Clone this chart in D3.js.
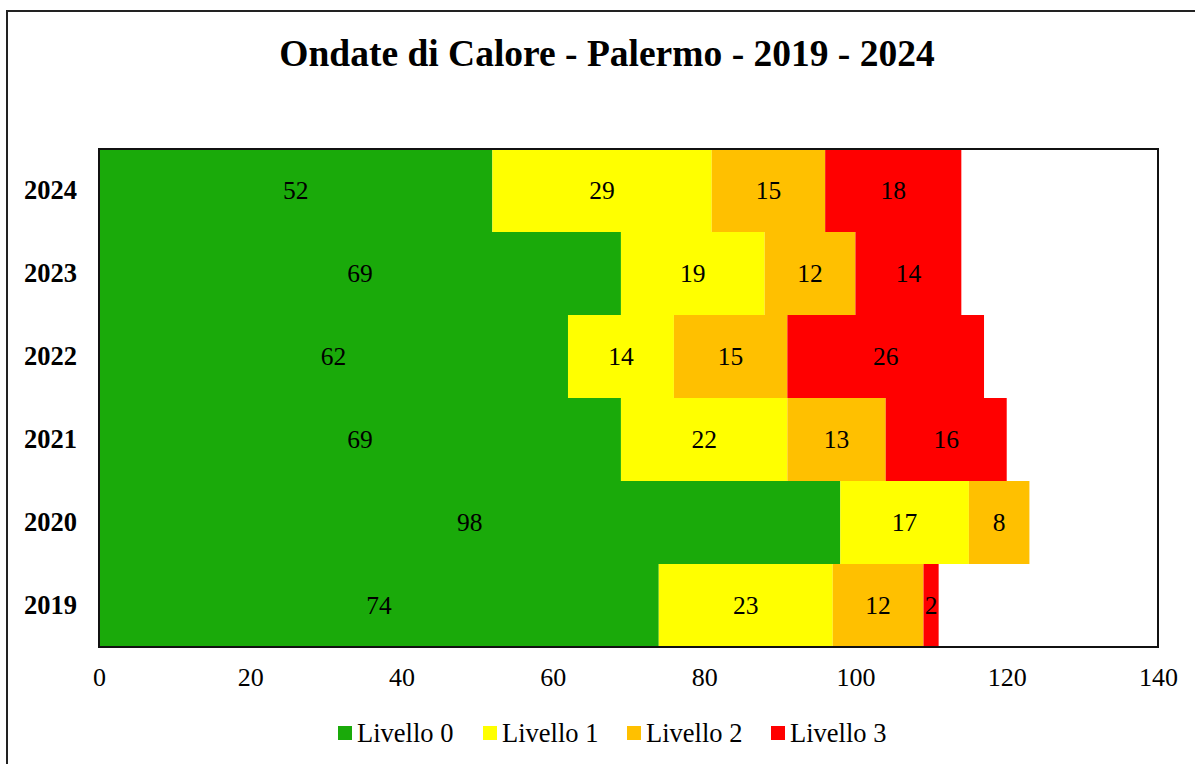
<!DOCTYPE html>
<html><head><meta charset="utf-8">
<script src="https://cdn.jsdelivr.net/npm/d3@7"></script>
<style>body{margin:0;background:#fff;} svg{display:block;}</style>
</head><body>
<svg id="chart" width="1195" height="764"></svg>
<script>
const years = ["2024","2023","2022","2021","2020","2019"];
const seriesNames = ["Livello 0","Livello 1","Livello 2","Livello 3"];
const livello0 = [52,69,62,69,98,74];
const livello1 = [29,19,14,22,17,23];
const livello2 = [15,12,15,13,8,12];
const livello3 = [18,14,26,16,0,2];
const xTicks = [0,20,40,60,80,100,120,140];
const colors = ["#1aaa0a","#ffff00","#ffc000","#ff0000"];

const svg = d3.select("#chart");
const font = "'Liberation Serif','Times New Roman',serif";
const W=1195,H=764;
svg.append("rect").attr("x",0).attr("y",0).attr("width",W).attr("height",H).attr("fill","#fff");
svg.append("rect").attr("x",7).attr("y",11).attr("width",W+10).attr("height",H+10)
  .attr("fill","none").attr("stroke","#222").attr("stroke-width",2);

svg.append("text").attr("x",607).attr("y",66).attr("text-anchor","middle")
  .attr("font-family",font).attr("font-weight","bold").attr("font-size",37.5)
  .text("Ondate di Calore - Palermo - 2019 - 2024");

const pLeft=99,pRight=1158,pTop=149,pBottom=647;
const x = d3.scaleLinear().domain([0,140]).range([pLeft,pRight]);
const y = d3.scaleBand().domain(years).range([pTop,pBottom]).padding(0);

const rows = years.map((yr,i)=>({year:yr, "Livello 0":livello0[i],"Livello 1":livello1[i],"Livello 2":livello2[i],"Livello 3":livello3[i]}));
const stack = d3.stack().keys(seriesNames)(rows);

const g = svg.append("g");
stack.forEach((s,si)=>{
  g.selectAll(null).data(s).enter().append("rect")
    .attr("x",d=>x(d[0])).attr("y",d=>y(d.data.year))
    .attr("width",d=>x(d[1])-x(d[0])).attr("height",y.bandwidth())
    .attr("fill",colors[si]);
  g.selectAll(null).data(s.filter(d=>d[1]-d[0]>0)).enter().append("text")
    .attr("x",d=>(x(d[0])+x(d[1]))/2).attr("y",d=>y(d.data.year)+y.bandwidth()/2)
    .attr("dy","0.35em").attr("text-anchor","middle")
    .attr("font-family",font).attr("font-size",25.5).attr("fill","#000")
    .text(d=>d[1]-d[0]);
});

svg.append("rect").attr("x",pLeft).attr("y",pTop).attr("width",pRight-pLeft).attr("height",pBottom-pTop)
  .attr("fill","none").attr("stroke","#111").attr("stroke-width",2);

const xAxis = svg.append("g").attr("transform",`translate(0,${pBottom})`)
  .call(d3.axisBottom(x).tickValues(xTicks).tickSize(0).tickPadding(21));
xAxis.select(".domain").remove();
xAxis.selectAll("text").attr("font-family",font).attr("font-size",26).attr("fill","#000");

const yAxis = svg.append("g").attr("transform",`translate(${pLeft},0)`)
  .call(d3.axisLeft(y).tickSize(0).tickPadding(22));
yAxis.select(".domain").remove();
yAxis.selectAll("text").attr("font-family",font).attr("font-size",26.5).attr("font-weight","bold").attr("fill","#000");

const legendX = [338,483,627,771];
const lg = svg.append("g");
seriesNames.forEach((n,i)=>{
  lg.append("rect").attr("x",legendX[i]).attr("y",726).attr("width",14).attr("height",14).attr("fill",colors[i]);
  lg.append("text").attr("x",legendX[i]+19).attr("y",742).attr("font-family",font).attr("font-size",26.5).text(n);
});
</script>
</body></html>
